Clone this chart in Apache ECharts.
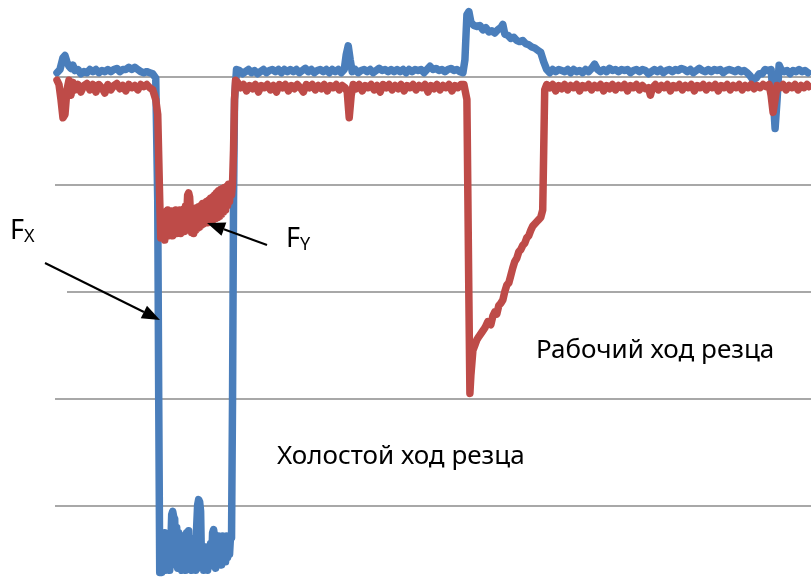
<!DOCTYPE html>
<html>
<head>
<meta charset="utf-8">
<script src="https://cdn.jsdelivr.net/npm/echarts@6/dist/echarts.min.js"></script>
<style>
  html, body { margin: 0; padding: 0; background: #fff; }
  #main { width: 811px; height: 581px; }
</style>
</head>
<body>
<div id="main"></div>
<script>
// Fx (blue) - [time, force]
var fxPoints = [
  [0,4],[3,7],[6,18],[8,20],[10,14],[12,10],[14,8],[16,11],[18,6],[21,7],[24,3],[27,5],[30,4],[33,7],[36,5],[39,7],
  [42,4],[45,6],[48,5],[51,7],[54,5],[57,7],[60,8],[63,5],[66,7],[69,7],[72,9],[75,7],[78,9],[81,7],[84,5],[87,4],
  [90,5],[93,4],[96,3],[99,-1],[101,-115],[102,-301],[103,-462],
  [104,-440],[105,-462],[106,-430],[107,-458],[108,-425],[109,-460],[110,-435],[111,-458],[112,-430],[113,-460],
  [114,-440],[115,-408],[116,-405],[117,-410],[118,-412],[119,-455],[120,-420],[121,-458],[122,-425],[123,-456],
  [124,-430],[125,-460],[126,-428],[127,-458],[128,-435],[129,-460],[130,-425],[131,-455],[132,-423],[133,-458],
  [134,-430],[135,-460],[136,-435],[137,-455],[138,-440],[139,-460],[140,-420],[141,-399],[142,-394],[143,-396],
  [144,-405],[145,-458],[146,-440],[147,-460],[148,-438],[149,-458],[150,-442],[151,-460],[152,-440],[153,-456],
  [154,-435],[155,-455],[156,-425],[157,-422],[158,-428],[159,-458],[160,-432],[161,-455],[162,-428],[163,-452],
  [164,-430],[165,-455],[166,-428],[167,-450],[168,-430],[169,-452],[170,-428],[171,-448],[172,-430],[173,-445],
  [174,-428],[175,-430],[176,-301],[177,-115],[178,-21],[180,7],
  [183,6],[186,3],[189,5],[192,7],[195,4],[198,6],[201,3],[204,5],[207,7],[210,4],[213,6],[216,7],[219,5],[222,7],
  [225,4],[228,7],[231,5],[234,7],[237,5],[240,7],[243,4],[246,6],[249,8],[252,5],[255,7],[258,4],[261,6],[264,7],
  [267,5],[270,7],[273,4],[276,7],[279,5],[282,7],[285,4],[288,7],[290,21],[292,29],[294,16],[296,5],[299,7],[302,4],
  [305,6],[308,7],[311,5],[314,7],[317,4],[320,6],[323,8],[326,6],[329,7],[332,5],[335,7],[338,5],[341,7],[344,5],
  [347,7],[350,4],[353,7],[356,5],[359,7],[362,6],[365,7],[368,4],[371,7],[374,10],[377,7],[380,8],[383,6],[386,7],
  [389,5],[392,7],[395,8],[398,6],[401,7],[404,5],[407,4],[409,16],[411,58],[413,61],[415,51],[418,48],[421,47],
  [424,48],[427,44],[430,46],[433,42],[436,43],[439,41],[442,44],[445,46],[447,49],[449,40],[452,39],[455,36],
  [458,37],[461,34],[464,33],[467,34],[470,31],[473,30],[476,28],[479,27],[482,25],[485,23],[488,14],[491,7],[494,4],
  [497,7],[500,5],[503,7],[506,6],[509,5],[512,7],[515,4],[518,7],[521,5],[524,6],[527,4],[530,7],[533,5],[536,8],
  [539,12],[542,7],[545,5],[548,7],[551,5],[554,8],[557,6],[560,7],[563,5],[566,7],[569,6],[572,7],[575,4],[578,6],
  [581,7],[584,5],[587,7],[590,6],[593,3],[596,5],[599,7],[602,5],[605,7],[608,4],[611,6],[614,7],[617,5],[620,7],
  [623,6],[626,8],[629,7],[632,5],[635,7],[638,4],[641,6],[644,8],[647,6],[650,5],[653,7],[656,5],[659,7],[662,6],
  [665,7],[668,4],[671,6],[674,7],[677,6],[680,5],[683,7],[686,5],[689,6],[692,4],[695,1],[698,-3],[701,-1],[704,3],
  [707,3],[710,7],[713,6],[716,7],[718,-17],[720,-48],[722,-21],[724,11],[726,7],[729,5],[732,6],[735,3],[738,6],
  [741,5],[744,7],[747,5],[750,6],[753,4]
];

// Fy (red) - [time, force]
var fyPoints = [
  [0,-3],[2,-7],[4,-21],[6,-38],[8,-35],[10,-12],[12,-3],[14,-17],[16,-5],[18,-12],[21,-7],[24,-14],[27,-8],[30,-6],
  [33,-12],[36,-7],[39,-14],[42,-7],[45,-10],[48,-15],[51,-7],[54,-12],[57,-8],[60,-6],[63,-11],[66,-8],[69,-13],
  [72,-7],[75,-10],[78,-8],[81,-12],[84,-7],[87,-9],[90,-7],[93,-10],[96,-12],[99,-21],[101,-35],[103,-115],
  [104,-150],[105,-128],[106,-148],[107,-126],[108,-152],[109,-130],[110,-145],[111,-124],[112,-148],[113,-128],
  [114,-146],[115,-125],[116,-148],[117,-127],[118,-145],[119,-124],[120,-146],[121,-126],[122,-144],[123,-124],
  [124,-146],[125,-127],[126,-142],[127,-123],[128,-144],[129,-120],[130,-130],[131,-110],[132,-108],[133,-112],
  [134,-130],[135,-145],[136,-125],[137,-146],[138,-124],[139,-143],[140,-122],[141,-141],[142,-121],[143,-140],
  [144,-120],[145,-138],[146,-118],[147,-137],[148,-118],[149,-136],[150,-116],[151,-136],[152,-115],[153,-135],
  [154,-113],[155,-134],[156,-112],[157,-133],[158,-110],[159,-132],[160,-108],[161,-131],[162,-106],[163,-130],
  [164,-105],[165,-128],[166,-104],[167,-126],[168,-103],[169,-124],[170,-102],[171,-120],[172,-100],[173,-116],
  [174,-100],[175,-110],[176,-100],[177,-68],[178,-21],[179,-3],[181,-5],
  [184,-10],[187,-7],[190,-13],[193,-8],[196,-11],[199,-7],[202,-14],[205,-8],[208,-10],[211,-7],[214,-12],[217,-8],
  [220,-14],[223,-7],[226,-10],[229,-7],[232,-13],[235,-8],[238,-11],[241,-7],[244,-10],[247,-14],[250,-7],[253,-10],
  [256,-7],[259,-12],[262,-8],[265,-11],[268,-7],[271,-13],[274,-8],[277,-10],[280,-7],[283,-12],[286,-8],[289,-10],
  [291,-14],[293,-38],[295,-17],[297,-7],[300,-11],[303,-7],[306,-13],[309,-8],[312,-10],[315,-7],[318,-12],[321,-8],
  [324,-14],[327,-7],[330,-10],[333,-7],[336,-12],[339,-8],[342,-11],[345,-7],[348,-13],[351,-8],[354,-10],[357,-7],
  [360,-12],[363,-8],[366,-10],[369,-7],[372,-14],[375,-8],[378,-11],[381,-7],[384,-12],[387,-8],[390,-10],[393,-7],
  [396,-13],[399,-8],[402,-10],[405,-7],[408,-7],[411,-21],[412,-115],[413,-208],[414,-295],[415,-278],[417,-255],
  [419,-250],[421,-245],[423,-242],[426,-238],[429,-234],[432,-228],[435,-231],[437,-223],[439,-219],[441,-221],
  [443,-213],[445,-211],[447,-208],[449,-200],[451,-194],[453,-192],[455,-185],[457,-178],[459,-172],[461,-169],
  [463,-163],[465,-161],[467,-157],[469,-155],[471,-150],[473,-148],[475,-143],[477,-139],[479,-140],[481,-135],
  [483,-133],[485,-131],[487,-124],[488,-68],[489,-12],[491,-7],
  [494,-10],[497,-7],[500,-13],[503,-8],[506,-11],[509,-7],[512,-12],[515,-8],[518,-10],[521,-7],[524,-13],[527,-8],
  [530,-10],[533,-7],[536,-12],[539,-8],[542,-10],[545,-7],[548,-13],[551,-8],[554,-11],[557,-7],[560,-12],[563,-8],
  [566,-10],[569,-7],[572,-13],[575,-8],[578,-10],[581,-7],[584,-12],[587,-8],[590,-11],[593,-10],[595,-17],[597,-10],
  [600,-7],[603,-12],[606,-8],[609,-10],[612,-7],[615,-13],[618,-8],[621,-10],[624,-7],[627,-12],[630,-8],[633,-10],
  [636,-7],[639,-13],[642,-8],[645,-10],[648,-7],[651,-12],[654,-8],[657,-10],[660,-7],[663,-13],[666,-8],[669,-10],
  [672,-7],[675,-12],[678,-8],[681,-10],[684,-7],[687,-12],[690,-8],[693,-10],[696,-7],[699,-11],[702,-8],[705,-10],
  [708,-7],[711,-9],[714,-7],[716,-17],[718,-33],[720,-21],[722,-8],[725,-10],[728,-7],[731,-12],[734,-8],[737,-10],
  [740,-7],[743,-12],[746,-8],[749,-10],[752,-7],[754,-9]
];

var labelFx = 'Fx';
var labelFy = 'Fy';
var textWork = 'Рабочий ход резца';
var textIdle = 'Холостой ход резца';

var blue = '#4a7ebb';
var red = '#be4b48';
var font = '"Noto Sans", "DejaVu Sans", sans-serif';

var chart = echarts.init(document.getElementById('main'));

// arrow = line + filled head
function arrow(x1, y1, x2, y2) {
  var ang = Math.atan2(y2 - y1, x2 - x1);
  var len = 18, half = 7;
  var bx = x2 - len * Math.cos(ang), by = y2 - len * Math.sin(ang);
  var px = -Math.sin(ang) * half, py = Math.cos(ang) * half;
  return [
    { type: 'line', z: 10, shape: { x1: x1, y1: y1, x2: bx, y2: by }, style: { stroke: '#000', lineWidth: 2 } },
    { type: 'polygon', z: 10, shape: { points: [[x2, y2], [bx + px, by + py], [bx - px, by - py]] }, style: { fill: '#000' } }
  ];
}

var graphics = [
  // white box behind the Fx label hides the start of one grid line
  { type: 'rect', z: 5, shape: { x: 54, y: 288, width: 13, height: 6 }, style: { fill: '#fff' } },
  {
    type: 'text', z: 10, left: 10, top: 218,
    style: {
      text: '{a|F}{b|X}',
      rich: {
        a: { fontSize: 27, fontFamily: font, fill: '#000' },
        b: { fontSize: 18, fontFamily: font, fill: '#000', padding: [11, 0, 0, 0] }
      }
    }
  },
  {
    type: 'text', z: 10, left: 286, top: 226,
    style: {
      text: '{a|F}{b|Y}',
      rich: {
        a: { fontSize: 27, fontFamily: font, fill: '#000' },
        b: { fontSize: 18, fontFamily: font, fill: '#000', padding: [11, 0, 0, 0] }
      }
    }
  },
  { type: 'text', z: 10, left: 536, top: 338, style: { text: textWork, fontSize: 26, fontFamily: font, fill: '#000' } },
  { type: 'text', z: 10, left: 277, top: 444, style: { text: textIdle, fontSize: 26, fontFamily: font, fill: '#000' } }
].concat(arrow(45, 263, 160, 320)).concat(arrow(267, 245, 207, 223));

chart.setOption({
  animation: false,
  grid: { left: 55, right: 0, top: 77, bottom: 75 },
  xAxis: {
    type: 'value',
    min: -2,
    max: 756,
    show: false
  },
  yAxis: {
    type: 'value',
    min: -400,
    max: 0,
    interval: 100,
    axisLine: { show: false },
    axisTick: { show: false },
    axisLabel: { show: false },
    splitLine: { show: true, lineStyle: { color: '#a8a8a8', width: 2 } }
  },
  series: [
    {
      name: labelFx,
      type: 'line',
      data: fxPoints,
      showSymbol: false,
      clip: false,
      lineStyle: { color: blue, width: 7.5, join: 'round', cap: 'round' },
      z: 2
    },
    {
      name: labelFy,
      type: 'line',
      data: fyPoints,
      showSymbol: false,
      clip: false,
      lineStyle: { color: red, width: 7.5, join: 'round', cap: 'round' },
      z: 3
    }
  ],
  graphic: graphics
});
</script>
</body>
</html>
